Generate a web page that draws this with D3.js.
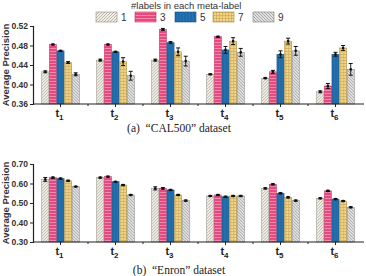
<!DOCTYPE html>
<html>
<head>
<meta charset="utf-8">
<script src="https://cdn.jsdelivr.net/npm/d3@7"></script>
<style>
  body { margin: 0; background: #fff; }
  svg { display: block; font-family: "Liberation Sans", Arial, sans-serif; }
</style>
</head>
<body>
<svg id="chart" width="366" height="276"></svg>
<script>
// data
const groups = ["1", "2", "3", "4", "5", "6"];
const seriesNames = ["1", "3", "5", "7", "9"];

const calValues = [
  [0.426, 0.482, 0.469, 0.445, 0.421],
  [0.450, 0.482, 0.467, 0.447, 0.418],
  [0.450, 0.513, 0.486, 0.467, 0.448],
  [0.421, 0.498, 0.471, 0.489, 0.466],
  [0.413, 0.426, 0.462, 0.489, 0.469],
  [0.385, 0.397, 0.462, 0.475, 0.431]
];
const calErrors = [
  [0.002, 0.001, 0.001, 0.002, 0.003],
  [0.002, 0.001, 0.001, 0.008, 0.009],
  [0.002, 0.002, 0.002, 0.008, 0.010],
  [0.001, 0.001, 0.007, 0.007, 0.008],
  [0.001, 0.003, 0.007, 0.006, 0.009],
  [0.002, 0.005, 0.004, 0.005, 0.012]
];
const calTicks = [0.36, 0.40, 0.44, 0.48, 0.52];

const enronValues = [
  [0.621, 0.630, 0.625, 0.614, 0.584],
  [0.630, 0.635, 0.609, 0.592, 0.541],
  [0.575, 0.575, 0.567, 0.541, 0.512],
  [0.536, 0.541, 0.532, 0.536, 0.536],
  [0.575, 0.596, 0.550, 0.529, 0.512],
  [0.524, 0.562, 0.520, 0.510, 0.478]
];
const enronErrors = [
  [0.010, 0.003, 0.003, 0.003, 0.002],
  [0.003, 0.003, 0.002, 0.003, 0.003],
  [0.008, 0.004, 0.003, 0.003, 0.003],
  [0.003, 0.003, 0.003, 0.003, 0.003],
  [0.003, 0.003, 0.003, 0.003, 0.003],
  [0.003, 0.003, 0.003, 0.003, 0.003]
];
const enronTicks = [0.30, 0.40, 0.50, 0.60, 0.70];

const svg = d3.select("#chart");
const defs = svg.append("defs");

// hatch patterns for the five series
function makePattern(id, bg, lines) {
  const p = defs.append("pattern")
    .attr("id", id)
    .attr("patternUnits", "userSpaceOnUse")
    .attr("width", 3).attr("height", 3);
  p.append("rect").attr("width", 3).attr("height", 3).attr("fill", bg);
  lines.forEach(l => {
    p.append("path").attr("d", l.d).attr("stroke", l.c)
      .attr("stroke-width", l.w).attr("fill", "none");
  });
}
makePattern("p1", "#f4f1e4", [{d: "M-1,1 l2,-2 M0,3 l3,-3 M2,4 l2,-2", c: "#9a9a9a", w: 0.7}]);
makePattern("p3", "#e9487f", [{d: "M0,0.5 h3", c: "#f59ab8", w: 0.8}]);
makePattern("p5", "#1f6aa8", [{d: "M0.5,0 v3", c: "#2b78b6", w: 0.6}]);
makePattern("p7", "#f1d586", [{d: "M0,0.5 h3 M0.5,0 v3", c: "#c9a352", w: 0.6}]);
makePattern("p9", "#e2e2e2", [{d: "M-1,2 l2,2 M0,0 l3,3 M2,-1 l2,2", c: "#8c8c8c", w: 0.7}]);

const fills = ["url(#p1)", "url(#p3)", "url(#p5)", "url(#p7)", "url(#p9)"];
const strokes = ["#8a8a80", "#b83060", "#17507f", "#a88a40", "#7d7d7d"];

const x0 = d3.scaleBand().domain(groups).range([33, 363])
  .paddingInner(0.3).paddingOuter(0.15);
const x1 = d3.scaleBand().domain(seriesNames).range([0, x0.bandwidth()]).padding(0.06);

function drawPanel(values, errors, ticks, top, bottom, caption, captionY) {
  const y = d3.scaleLinear().domain([ticks[0], ticks[ticks.length - 1]]).range([bottom, top]);
  const g = svg.append("g");

  // bars
  const grp = g.selectAll(".grp").data(values).enter().append("g")
    .attr("transform", (d, i) => "translate(" + x0(groups[i]) + ",0)");
  grp.selectAll("rect").data(d => d).enter().append("rect")
    .attr("x", (d, j) => x1(seriesNames[j]))
    .attr("y", d => y(d))
    .attr("width", x1.bandwidth())
    .attr("height", d => bottom - y(d))
    .attr("fill", (d, j) => fills[j])
    .attr("stroke", (d, j) => strokes[j])
    .attr("stroke-width", 0.5);

  // error bars
  values.forEach((row, i) => {
    row.forEach((v, j) => {
      const cx = x0(groups[i]) + x1(seriesNames[j]) + x1.bandwidth() / 2;
      const e = errors[i][j];
      g.append("line").attr("x1", cx).attr("x2", cx)
        .attr("y1", y(v + e)).attr("y2", y(v - e))
        .attr("stroke", "#111").attr("stroke-width", 0.9);
      [v + e, v - e].forEach(val => {
        g.append("line").attr("x1", cx - 2).attr("x2", cx + 2)
          .attr("y1", y(val)).attr("y2", y(val))
          .attr("stroke", "#111").attr("stroke-width", 1);
      });
      g.append("circle").attr("cx", cx).attr("cy", y(v)).attr("r", 1.3).attr("fill", "#111");
    });
  });

  // y axis
  const yAxis = d3.axisLeft(y).tickValues(ticks).tickFormat(d3.format(".2f"))
    .tickSize(3).tickPadding(2);
  const ya = g.append("g").attr("transform", "translate(33,0)").call(yAxis);
  ya.select(".domain").attr("stroke", "#222").attr("stroke-width", 1.2);
  ya.selectAll(".tick line").attr("stroke", "#222");
  ya.selectAll("text").attr("font-size", 8.5).attr("font-weight", "bold").attr("fill", "#333");

  // x axis
  const xa = g.append("g").attr("transform", "translate(0," + bottom + ")");
  xa.append("line").attr("x1", 33).attr("x2", 364).attr("y1", 0).attr("y2", 0)
    .attr("stroke", "#222").attr("stroke-width", 1.2);
  groups.forEach((gname, i) => {
    const cx = x0(gname) + x0.bandwidth() / 2;
    xa.append("line").attr("x1", cx).attr("x2", cx).attr("y1", 0).attr("y2", 3)
      .attr("stroke", "#222");
    if (i > 0) {
      const bx = x0(gname) - x0.step() * x0.paddingInner() / 2;
      xa.append("line").attr("x1", bx).attr("x2", bx).attr("y1", 0).attr("y2", 2)
        .attr("stroke", "#222");
    }
    const t = xa.append("text").attr("x", cx - 1).attr("y", 13)
      .attr("text-anchor", "middle").attr("font-size", 11).attr("font-weight", "bold")
      .attr("fill", "#222");
    t.append("tspan").text("t");
    t.append("tspan").attr("dy", 3).attr("font-size", 8).text(gname);
  });

  // y title
  g.append("text")
    .attr("transform", "translate(9," + ((top + bottom) / 2) + ") rotate(-90)")
    .attr("text-anchor", "middle").attr("font-size", 9.5).attr("font-weight", "bold")
    .attr("fill", "#333").text("Average Precision");

  // caption
  svg.append("text").attr("x", 179).attr("y", captionY).attr("text-anchor", "middle")
    .attr("font-family", "'Liberation Serif', 'DejaVu Serif', serif")
    .attr("font-size", 11.5).attr("fill", "#222").attr("xml:space", "preserve")
    .text(caption);
}

drawPanel(calValues, calErrors, calTicks, 26, 104, "(a)  \u201CCAL500\u201D dataset", 132);
drawPanel(enronValues, enronErrors, enronTicks, 164, 242, "(b)  \u201CEnron\u201D dataset", 273.5);

// legend
const legend = svg.append("g");
legend.append("text").attr("x", 131).attr("y", 9).attr("font-size", 9.5)
  .attr("fill", "#333").text("#labels in each meta-label");
const legendX = [96, 135, 175, 213, 253];
seriesNames.forEach((s, j) => {
  legend.append("rect").attr("x", legendX[j]).attr("y", 12).attr("width", 21).attr("height", 10)
    .attr("fill", fills[j]).attr("stroke", strokes[j]).attr("stroke-width", 0.6);
  legend.append("text").attr("x", legendX[j] + 25).attr("y", 21).attr("font-size", 10)
    .attr("fill", "#333").text(s);
});
</script>
</body>
</html>
